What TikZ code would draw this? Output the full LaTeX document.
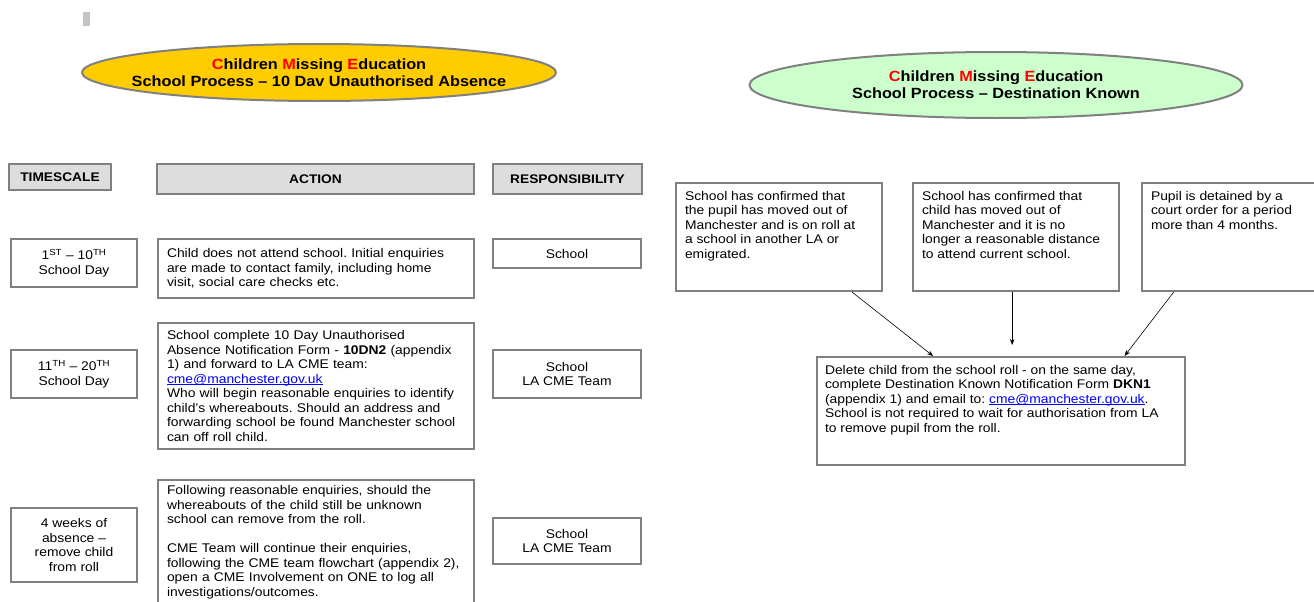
\documentclass[tikz,border=0pt]{standalone}
\usepackage{fontspec}
\setmainfont{Liberation Sans}[FakeStretch=1.1]
\usetikzlibrary{shapes.geometric,arrows.meta,positioning}

\definecolor{cmeyellow}{HTML}{FFCC00}
\definecolor{cmegreen}{HTML}{CCFFCC}
\definecolor{cmegrey}{HTML}{808080}
\definecolor{hdrgrey}{HTML}{DDDDDD}
\definecolor{markgrey}{HTML}{C4C4C4}
\definecolor{linkblue}{HTML}{0000FF}

\frenchspacing
\newcommand{\cme}{\textcolor{red}{C}hildren \textcolor{red}{M}issing \textcolor{red}{E}ducation}
\newcommand{\maillink}{\textcolor{linkblue}{\underline{\smash{cme@manchester.gov.uk}}}}
\newcommand{\toptext}[3]{\parbox[c][#1][t]{#2}{\raggedright #3}}

\begin{document}
\begin{tikzpicture}[x=1pt,y=-1pt,
	box/.style={rectangle, draw=cmegrey, line width=2pt, inner sep=0pt, anchor=north west, font=\fontsize{12.6}{14.5}\selectfont},
	hdr/.style={box, fill=hdrgrey, font=\bfseries\fontsize{12.5}{14}\selectfont},
	oval/.style={ellipse, draw=cmegrey, line width=2pt, inner sep=0pt},
	oval text/.style={inner sep=0pt, align=center, font=\bfseries\fontsize{14.8}{17}\selectfont},
	arr/.style={-{Stealth[length=6pt,width=4.5pt]}, line width=0.6pt}]
		\useasboundingbox (0,0) rectangle (1314,602);
		\fill[markgrey] (83,12) rectangle (90,26);

		% 10 day unauthorised absence
		\node[oval, fill=cmeyellow, minimum width=474pt, minimum height=57pt,
			label={[oval text]center:{\cme\\School Process – 10 Dav Unauthorised Absence}}] (tenday) at (319,72.5) {};

		\node[hdr, minimum width=102pt, minimum height=26pt] (timescale) at (8,163) {TIMESCALE};
		\node[hdr, minimum width=317pt, minimum height=30pt] (action) at (156,163) {ACTION};
		\node[hdr, minimum width=149pt, minimum height=30pt] (resp) at (492,163) {RESPONSIBILITY};

		\node[box, minimum width=126pt, minimum height=48pt, align=center] (dayone) at (10,238) {1\textsuperscript{ST} – 10\textsuperscript{TH}\\School Day};
		\node[box, minimum width=316pt, minimum height=59pt, text width=298pt, align=left] (actone) at (157,238) {Child does not attend school. Initial enquiries\\are made to contact family, including home\\visit, social care checks etc.};
		\node[box, minimum width=148pt, minimum height=29pt] (resone) at (492,238) {School};

		\node[box, minimum width=126pt, minimum height=48pt, align=center] (daytwo) at (10,349) {11\textsuperscript{TH} – 20\textsuperscript{TH}\\School Day};
		\node[box, minimum width=316pt, minimum height=126pt, text width=298pt, align=left] (acttwo) at (157,322) {School complete 10 Day Unauthorised\\Absence Notification Form - \textbf{10DN2} (appendix\\1) and forward to LA CME team:\\\maillink\\Who will begin reasonable enquiries to identify\\child's whereabouts. Should an address and\\forwarding school be found Manchester school\\can off roll child.};
		\node[box, minimum width=148pt, minimum height=48pt, align=center] (restwo) at (492,349) {School\\LA CME Team};

		\node[box, minimum width=126pt, minimum height=74pt, align=center] (daythree) at (10,507) {4 weeks of\\absence –\\remove child\\from roll};
		\node[box, minimum width=316pt, minimum height=124pt, text width=298pt, align=left] (actthree) at (157,479) {Following reasonable enquiries, should the\\whereabouts of the child still be unknown\\school can remove from the roll.\\[14.5pt]CME Team will continue their enquiries,\\following the CME team flowchart (appendix 2),\\open a CME Involvement on ONE to log all\\investigations/outcomes.};
		\node[box, minimum width=148pt, minimum height=46pt, align=center] (resthree) at (492,517) {School\\LA CME Team};

		% destination known
		\node[oval, fill=cmegreen, minimum width=493pt, minimum height=66pt,
			label={[oval text]center:{\cme\\School Process – Destination Known}}] (known) at (996,85) {};

		\node[box, minimum width=206pt, minimum height=108pt] (onroll) at (675,182) {\toptext{92pt}{188pt}{School has confirmed that\\the pupil has moved out of\\Manchester and is on roll at\\a school in another LA or\\emigrated.}};
		\node[box, minimum width=206pt, minimum height=108pt] (distance) at (912,182) {\toptext{92pt}{188pt}{School has confirmed that\\child has moved out of\\Manchester and it is no\\longer a reasonable distance\\to attend current school.}};
		\node[box, minimum width=190pt, minimum height=108pt] (court) at (1141,182) {\toptext{92pt}{172pt}{Pupil is detained by a\\court order for a period\\more than 4 months.}};

		\node[box, minimum width=368pt, minimum height=108pt] (delete) at (816,356) {\toptext{92pt}{352pt}{Delete child from the school roll - on the same day,\\complete Destination Known Notification Form \textbf{DKN1}\\(appendix 1) and email to: \maillink.\\School is not required to wait for authorisation from LA\\to remove pupil from the roll.}};

		\draw[arr] (onroll.-37.6) -- (delete.141.5);
		\draw[arr, shorten >=11pt] (distance.-94.2) -- (distance.-94.2 |- delete.north);
		\draw[arr] (court.-139.4) -- (delete.24.2);
	\end{tikzpicture}
\end{document}
